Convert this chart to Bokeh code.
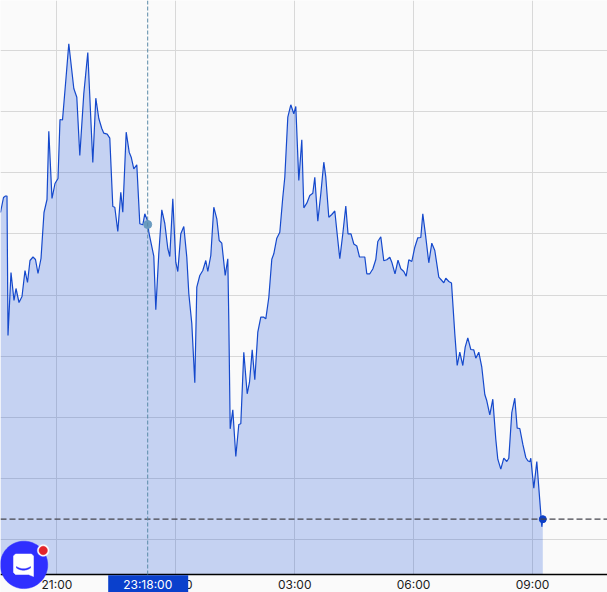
import numpy as np
from bokeh.plotting import figure
from bokeh.models import Range1d, FixedTicker, Span, Label, PolyAnnotation, BoxAnnotation
from bokeh.embed import file_html
from bokeh.resources import INLINE

# sample position along the time axis (3 h = 119 units)
times = [0,3,5,6.5,7.5,10.5,13.5,15.5,18.5,21.5,24.5,27,29.5,32.5,35,37.5,40.5,43.5,46.5,48.3,51.5,54.5,57.5,59.5,62,65.3,68.3,
73.3,76.3,79.3,83.3,87.3,92.3,95.3,98.3,101.3,103.3,106.7,109.3,112.3,114.3,117.3,120.3,122.3,125.7,128.7,130.7,133.3,136.3,
139.3,142.3,144.3,147.3,148.3,153.3,155.3,158.3,161.3,164.3,167.3,169.3,172.3,175.3,177.3,180.3,183.3,186.3,188.3,191.3,194.3,
196.3,199.3,202.3,205.3,207.3,210.3,213.3,216.3,218.7,221.3,224.7,227.3,228.3,229.7,232.3,235.3,238.3,240.3,243.3,246.7,249,
251.7,254.3,257.3,260.3,263.3,265.3,268.3,271.3,273.3,276.3,279.3,282.3,284.3,287.3,290.3,293.3,295.3,298.3,301.3,303.3,306.3,
309.3,312.3,314.3,317.3,320.3,323.3,325.3,328.3,331.3,334.3,336.3,339.3,342.3,345.3,347.5,350.5,353.3,356.3,359,364.3,366.3,
369.3,372.3,375.3,377.3,380.3,383.3,386.3,389.3,391.3,394.5,397.5,400.3,403.3,405.7,408.3,411.3,414.3,417.3,420.3,422.3,425.3,
428.3,431.3,434.3,438.3,441.3,443.3,445.3,448.3,451,454.3,456.7,459.3,462.3,464.7,467.3,470.3,473.3,475.3,478.3,481.3,484.3,
486.3,489.3,492.3,495.3,497.3,500.3,503.3,506.3,508.3,511.3,514.3,516.7,519.3,522.3,525.3,527.3,529.3,530.3,533.3,536.3,541.3,542.3]
values = [362,377,378.5,378.5,239,302,274,286,272,278,304,292,314,317.5,315,301,316,362,375,443.3,376,391,396,455,454.5,494,530.7,
486,477.3,419,481,522,412,476.3,456,446,441.3,440.3,436.3,368,367.3,343,382.3,362.3,442.3,422.3,417.3,405.7,409.7,
350.7,349.7,360.7,353,342.3,318.3,264.7,321,364.7,351,326,318,375.7,312.3,303,340.7,348,317.3,281,251,191.7,
287.3,299,304,314,303,319,367.3,355.7,334,331.3,299,315.7,254,145.7,164.7,118,150,150.7,222.3,180.7,192.3,
224.7,194.7,242.3,257.3,257.3,255.7,277,315.3,320.7,336.3,342.3,377.3,397.3,457.3,469.7,460.7,468,394,434.7,366.7,371.3,
379,381.3,397.3,353.3,380.7,412.3,397.3,357.3,360,363.5,344,315.7,340.7,368.5,340.7,340.7,330.5,328.5,317.5,317.5,300.7,
300.7,305.5,315,333,337.7,313.7,314.7,317.3,312.3,300.7,314.4,305.7,303,298.3,314.7,313,327.3,336.7,337,360.7,337.3,
311.7,331.3,324,297.3,294,291.7,296.3,293,291.5,240.7,209,222.3,209,227.3,236.7,225,224.7,216.3,222.3,207.3,180,
173.7,159.7,175.3,135.3,115.3,105.3,116.3,113,116.3,162,176.3,146.3,146,130.3,117,113.7,112.7,116.3,86.3,113,47.7,55.3]

tick_positions = [56.4, 175.3, 294.2, 413.1, 532.0]
tick_labels = ["21:00", "00:00", "03:00", "06:00", "09:00"]
grid_values = [34.6, 95.8, 157, 218.2, 279.4, 340.6, 401.8, 463, 524.2]
last_value = 55.3
cursor_time = 147.2
cursor_value = 350
cursor_label = "23:18:00"

FONT = "Inter"
BG = "#fafafa"
p = figure(width=607, height=592, output_backend="svg", toolbar_location=None,
           x_range=Range1d(0, 607), y_range=Range1d(-18, 574),
           min_border=0, min_border_left=0, min_border_right=0, min_border_top=0, min_border_bottom=0,
           background_fill_color=BG, border_fill_color=BG, outline_line_color=None)
p.yaxis.visible = False
p.xaxis.fixed_location = 0
p.xaxis.ticker = FixedTicker(ticks=tick_positions)
p.xaxis.major_label_overrides = dict(zip(tick_positions, tick_labels))
p.xaxis.major_tick_line_color = None
p.xaxis.minor_tick_line_color = None
p.xaxis.major_tick_out = 0
p.xaxis.major_tick_in = 0
p.xaxis.major_label_standoff = 2
p.xaxis.major_label_text_font = FONT
p.xaxis.major_label_text_font_size = "12px"
p.xaxis.major_label_text_color = "#1c1c1c"
p.xaxis.axis_line_color = "#000000"
p.xaxis.axis_line_width = 1.5
p.xgrid.ticker = FixedTicker(ticks=tick_positions)
p.ygrid.ticker = FixedTicker(ticks=grid_values)
p.xgrid.grid_line_color = "#d8d8d8"
p.ygrid.grid_line_color = "#d8d8d8"

# strip under the axis hides the grid's tails
p.quad(left=0, right=607, bottom=-18, top=0, fill_color=BG, line_color=None)
p.varea(x=times, y1=[0] * len(times), y2=values, fill_color="#0a44d8", fill_alpha=0.22)
p.line(times, values, line_color="#1549cc", line_width=1.2)

p.add_layout(Span(location=last_value, dimension="width", line_color="#45454d", line_dash="6 3", line_width=1.3))
p.add_layout(Span(location=cursor_time, dimension="height", line_color="#5b8aa8", line_dash="4 2", line_width=1))
p.scatter([cursor_time], [cursor_value], size=8, color="#6a9bc0")
p.scatter([times[-1]], [values[-1]], size=7, color="#0c3fc8")

p.add_layout(BoxAnnotation(left=cursor_time - 39.5, right=cursor_time + 40.5, bottom=-18, top=-0.8,
                           fill_color="#0a40cc", fill_alpha=1, line_color=None, level="overlay", editable=False))
p.add_layout(Label(x=cursor_time, y=-10, text=cursor_label, text_align="center", text_baseline="middle",
                   text_color="#ffffff", text_font=FONT, text_font_size="12px", level="overlay"))

# chat launcher in the lower left corner
a = np.linspace(0, 2 * np.pi, 80)
def poly(xs, ys, color):
    p.add_layout(PolyAnnotation(xs=list(xs), ys=list(ys), xs_units="data", ys_units="data",
                                fill_color=color, fill_alpha=1, line_color=color, line_alpha=1, line_width=0.5,
                                level="overlay", editable=False))
poly(23.5 + 23.7 * np.cos(a), 9.6 + 23.7 * np.sin(a), "#2f2fff")
poly(42.7 + 5.8 * np.cos(a), 24 + 5.8 * np.sin(a), "#ffffff")
poly(42.7 + 4.2 * np.cos(a), 24 + 4.2 * np.sin(a), "#e3242b")
poly([15, 31, 33, 33, 33, 28, 15, 13, 13], [20.5, 20.5, 18.5, -2, -2, 0, 0, 2, 18.5], "#ffffff")
s = np.linspace(-1, 1, 20)
sx = 23 + 7 * s
poly(np.r_[sx, sx[::-1]], np.r_[5 + 2.2 * s**2 - 0.7, (5 + 2.2 * s**2 + 0.7)[::-1]], "#2f2fff")

open("out.html", "w").write(file_html(p, INLINE))
